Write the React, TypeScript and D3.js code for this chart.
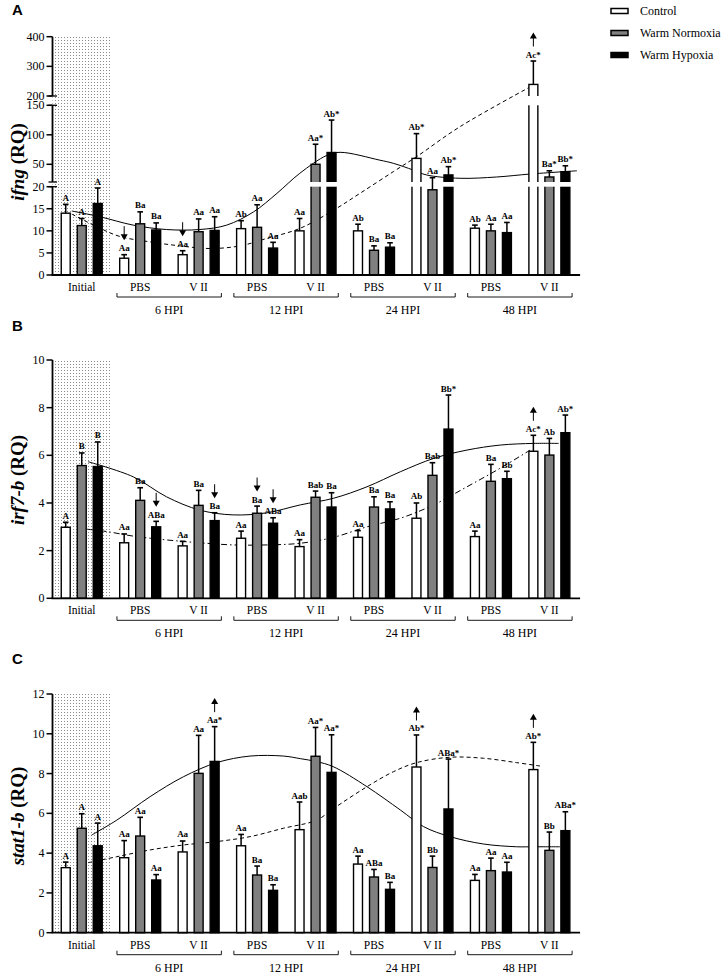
import React from "react";
import * as d3 from "d3";

// ---------- shared categories ----------
const groups = ["Initial", "PBS 6", "VII 6", "PBS 12", "VII 12", "PBS 24", "VII 24", "PBS 48", "VII 48"];
const categoryLabels = ["Initial", "PBS", "V II", "PBS", "V II", "PBS", "V II", "PBS", "V II"];
const hpiLabels = ["6 HPI", "12 HPI", "24 HPI", "48 HPI"];
const seriesNames = ["Control", "Warm Normoxia", "Warm Hypoxia"];
const seriesFills = ["#ffffff", "#808080", "#000000"];

// ---------- Panel A: ifng ----------
const ifngControl = [14, 3.8, 4.6, 10.5, 10, 10, 60, 10.6, 239];
const ifngControlSem = [2, 0.8, 0.9, 1.8, 2.8, 1.5, 42, 0.7, 79];
const ifngNormoxia = [11.2, 11.6, 9.8, 10.8, 50, 5.6, 19.3, 10, 28.5];
const ifngNormoxiaSem = [1.6, 2.7, 2.9, 5.1, 34, 1.0, 8, 1.5, 10.5];
const ifngHypoxia = [16.2, 10.2, 10.1, 6.1, 70, 6.3, 32, 9.6, 37.5];
const ifngHypoxiaSem = [3.5, 1.6, 3.1, 1.3, 55, 1.0, 14, 2.3, 10];
const ifngControlLabels = ["A", "Aa", "Aa", "Ab", "Aa", "Ab", "Ab*", "Ab", "Ac*"];
const ifngNormoxiaLabels = ["A", "Ba", "Aa", "Aa", "Aa*", "Ba", "Aa", "Aa", "Ba*"];
const ifngHypoxiaLabels = ["A", "Ba", "Aa", "Aa", "Ab*", "Ba", "Ab*", "Aa", "Bb*"];
const ifngControlArrows = [0, -1, -1, 0, 0, 0, 0, 0, 1];
const ifngNormoxiaArrows = [0, 0, 0, 0, 0, 0, 0, 0, 0];
const ifngHypoxiaArrows = [0, 0, 0, 0, 0, 0, 0, 0, 0];
const ifngTicksLow = [0, 5, 10, 15, 20];
const ifngTicksMid = [50, 100, 150];
const ifngTicksHigh = [200, 300, 400];
const ifngTrendSolid: [number, number][] = [
  [-0.17, 14.5], [0.31, 13.2], [0.88, 11.3], [1.45, 10.3], [2.02, 10.3], [2.48, 11.3],
  [2.94, 14.3], [3.34, 18.5], [3.73, 34.7], [4.19, 65], [4.42, 70.3], [5.1, 57],
  [5.33, 51.7], [5.67, 40.3], [5.9, 31.9], [6.47, 26.3], [7.1, 28.5], [7.67, 33.5], [8.47, 39],
];
const ifngTrendDashed: [number, number][] = [
  [-0.17, 13.8], [0.31, 10.6], [0.66, 8.7], [1.17, 7.5], [1.68, 6.6], [2.2, 6.0], [2.71, 6.6],
  [3.17, 8.3], [3.74, 10.6], [4.31, 14.7], [4.76, 18.5], [5.33, 37.5], [5.73, 63],
  [6.47, 113.7], [7.73, 237],
];

// ---------- Panel B: irf7-b ----------
const irfControl = [2.98, 2.33, 2.2, 2.52, 2.17, 2.56, 3.36, 2.59, 6.17];
const irfControlSem = [0.21, 0.37, 0.19, 0.3, 0.29, 0.28, 0.64, 0.23, 0.67];
const irfNormoxia = [5.57, 4.11, 3.9, 3.57, 4.24, 3.83, 5.16, 4.91, 6.01];
const irfNormoxiaSem = [0.53, 0.53, 0.63, 0.3, 0.26, 0.43, 0.53, 0.71, 0.7];
const irfHypoxia = [5.53, 3.0, 3.26, 3.15, 3.83, 3.75, 7.1, 5.02, 6.95];
const irfHypoxiaSem = [1.03, 0.23, 0.33, 0.23, 0.6, 0.3, 1.43, 0.31, 0.74];
const irfControlLabels = ["A", "Aa", "Aa", "Aa", "Aa", "Aa", "Ab", "Aa", "Ac*"];
const irfNormoxiaLabels = ["B", "Ba", "Ba", "Ba", "Bab", "Ba", "Bab", "Ba", "Ab"];
const irfHypoxiaLabels = ["B", "ABa", "Ba", "ABa", "Ba", "Ba", "Bb*", "Bb", "Ab*"];
const irfControlArrows = [0, 0, 0, 0, 0, 0, 0, 0, 1];
const irfNormoxiaArrows = [0, 0, 0, -1, 0, 0, 0, 0, 0];
const irfHypoxiaArrows = [0, -1, -1, -1, 0, 0, 0, 0, 0];
const irfTicks = [0, 2, 4, 6, 8, 10];
const irfTrendSolid: [number, number][] = [
  [0.11, 5.73], [0.88, 5.1], [1.45, 4.26], [2.02, 3.7], [2.59, 3.5], [3.17, 3.59], [3.74, 3.92],
  [4.31, 4.2], [4.88, 4.68], [5.45, 5.31], [6.02, 5.87], [6.59, 6.22], [7.16, 6.43], [7.73, 6.5], [8.16, 6.5],
];
const irfTrendDashDot: [number, number][] = [
  [0.09, 2.9], [0.43, 2.8], [0.88, 2.61], [1.45, 2.45], [2.02, 2.33], [2.59, 2.24], [3.17, 2.24],
  [3.74, 2.31], [4.31, 2.56], [4.88, 3.0], [5.45, 3.36], [6.02, 3.92], [6.59, 4.68], [7.16, 5.46], [7.67, 6.22],
];

// ---------- Panel C: stat1-b ----------
const statControl = [3.27, 3.77, 4.06, 4.37, 5.18, 3.45, 8.33, 2.63, 8.2];
const statControlSem = [0.28, 0.86, 0.55, 0.57, 1.39, 0.4, 1.61, 0.3, 1.37];
const statNormoxia = [5.25, 4.86, 8.01, 2.9, 8.87, 2.8, 3.28, 3.12, 4.14];
const statNormoxiaSem = [0.73, 0.94, 1.91, 0.45, 1.45, 0.38, 0.57, 0.63, 0.92];
const statHypoxia = [4.37, 2.65, 8.61, 2.13, 8.06, 2.18, 6.22, 3.05, 5.13];
const statHypoxiaSem = [1.14, 0.27, 1.75, 0.28, 1.89, 0.35, 2.51, 0.49, 0.95];
const statControlLabels = ["A", "Aa", "Aa", "Aa", "Aab", "Aa", "Ab*", "Aa", "Ab*"];
const statNormoxiaLabels = ["A", "Aa", "Aa", "Ba", "Aa*", "ABa", "Bb", "Aa", "Bb"];
const statHypoxiaLabels = ["A", "Aa", "Aa*", "Ba", "Aa*", "Ba", "ABa*", "Aa", "ABa*"];
const statControlArrows = [0, 0, 0, 0, 0, 0, 1, 0, 1];
const statNormoxiaArrows = [0, 0, 0, 0, 0, 0, 0, 0, 0];
const statHypoxiaArrows = [0, 0, 1, 0, 0, 0, 0, 0, 0];
const statTicks = [0, 2, 4, 6, 8, 10, 12];
const statTrendSolid: [number, number][] = [
  [0.17, 4.91], [0.6, 5.66], [1.17, 6.84], [1.74, 7.84], [2.31, 8.55], [2.88, 8.88], [3.45, 8.88],
  [3.74, 8.75], [4.02, 8.6], [4.3, 8.35], [4.88, 7.34], [5.45, 6.17], [5.85, 5.33], [6.3, 4.83],
  [6.87, 4.46], [7.44, 4.32], [7.73, 4.32], [8.18, 4.32],
];
const statTrendDashed: [number, number][] = [
  [0.11, 3.52], [0.6, 3.82], [1.17, 4.16], [1.74, 4.41], [2.31, 4.58], [2.88, 4.83], [3.45, 5.25],
  [4.02, 5.66], [4.31, 6.25], [4.88, 7.34], [5.33, 8.09], [5.73, 8.55], [6.3, 8.82], [6.87, 8.77],
  [7.44, 8.55], [7.84, 8.38],
];

// ---------- layout ----------
const W = 726;
const H = 975;
const X0 = 52.5;
const X1 = 578.6;
const SERIF = "'Liberation Serif', 'Times New Roman', serif";
const SANS = "'Liberation Sans', Arial, sans-serif";

type Segment = { domain: [number, number]; range: [number, number]; ticks: number[] };

function makeBroken(segments: Segment[]) {
  const scales = segments.map((s) => d3.scaleLinear().domain(s.domain).range(s.range));
  const f = (v: number) => {
    for (let i = 0; i < segments.length; i++) {
      if (v <= segments[i].domain[1] || i === segments.length - 1) return scales[i](v);
    }
    return scales[scales.length - 1](v);
  };
  return { f, scales };
}

type PanelProps = {
  letter: string;
  letterY: number;
  titleItalic: string;
  titleY: number;
  segments: Segment[];
  values: number[][];
  sems: number[][];
  labels: string[][];
  arrows: number[][];
  trends: { pts: [number, number][]; dash: string }[];
};

const xGroup = d3.scaleBand<string>().domain(groups).range([X0, X1]).paddingInner(0).paddingOuter(0);
const xSub = d3.scaleBand<number>().domain([0, 1, 2]).range([0, 48]).paddingInner(0.44).paddingOuter(0.22);
const groupCenter = (g: string) => (xGroup(g) as number) + xGroup.bandwidth() / 2;
const xPos = d3.scaleLinear().domain([0, groups.length - 1]).range([groupCenter(groups[0]), groupCenter(groups[groups.length - 1])]);

function Arrow({ x, yLabel, dir }: { x: number; yLabel: number; dir: number }) {
  const yBot = yLabel - 11;
  const yTop = yLabel - 25;
  if (dir > 0) {
    return (
      <g>
        <line x1={x} x2={x} y1={yBot} y2={yTop + 5} stroke="#000" strokeWidth={1} />
        <path d={`M${x - 3.5},${yTop + 6} L${x + 3.5},${yTop + 6} L${x},${yTop} Z`} fill="#000" />
      </g>
    );
  }
  return (
    <g>
      <line x1={x} x2={x} y1={yTop} y2={yBot - 5} stroke="#000" strokeWidth={1} />
      <path d={`M${x - 3.5},${yBot - 6} L${x + 3.5},${yBot - 6} L${x},${yBot} Z`} fill="#000" />
    </g>
  );
}

function Panel(p: PanelProps) {
  const { f: y, scales } = makeBroken(p.segments);
  const base = p.segments[0].range[0];
  const topY = p.segments[p.segments.length - 1].range[1];
  const gaps: [number, number][] = [];
  for (let i = 0; i < p.segments.length - 1; i++) {
    gaps.push([p.segments[i + 1].range[0], p.segments[i].range[1]]);
  }
  const line = d3
    .line<[number, number]>()
    .x((d) => xPos(d[0]))
    .y((d) => y(d[1]))
    .curve(d3.curveCatmullRom.alpha(0.5));
  const shadeX0 = xGroup(groups[0]) as number;
  const shadeX1 = shadeX0 + xGroup.step() + 1;

  return (
    <g>
      <text x={12} y={p.letterY} fontFamily={SANS} fontWeight="bold" fontSize={15}>
        {p.letter}
      </text>
      <text
        transform={`translate(24, ${p.titleY}) rotate(-90)`}
        textAnchor="middle"
        fontFamily={SERIF}
        fontWeight="bold"
        fontSize={19}
      >
        <tspan fontStyle="italic">{p.titleItalic}</tspan>
        <tspan> (RQ)</tspan>
      </text>
      {/* shaded initial region */}
      <rect x={shadeX0} y={topY} width={shadeX1 - shadeX0} height={base - topY} fill="url(#stipple)" />
      {/* trend lines behind bars */}
      {p.trends.map((t, i) => (
        <path key={i} d={line(t.pts) || ""} fill="none" stroke="#000" strokeWidth={1} strokeDasharray={t.dash} />
      ))}
      {/* bars */}
      {groups.map((g, gi) => {
        const left = groupCenter(g) - 24;
        return (
          <g key={g}>
            {[0, 1, 2].map((si) => {
              const v = p.values[si][gi];
              const e = v + p.sems[si][gi];
              const bx = left + (xSub(si) as number);
              const bw = xSub.bandwidth();
              const cx = bx + bw / 2;
              const yv = y(v);
              const ye = y(e);
              const yl = ye - 3.5;
              return (
                <g key={si}>
                  <line x1={cx} x2={cx} y1={yv} y2={ye} stroke="#000" strokeWidth={1.5} />
                  <line x1={cx - 2.8} x2={cx + 2.8} y1={ye} y2={ye} stroke="#000" strokeWidth={1.6} />
                  <rect x={bx} y={yv} width={bw} height={base - yv} fill={seriesFills[si]} stroke="#000" strokeWidth={1.4} />
                  {gaps.map((gp, k) =>
                    yv < gp[0] ? (
                      <rect key={k} x={bx - 1.5} y={gp[0]} width={bw + 3} height={gp[1] - gp[0]} fill="#fff" />
                    ) : null
                  )}
                  <text x={cx} y={yl} textAnchor="middle" fontFamily={SERIF} fontWeight="bold" fontSize={9}>
                    {p.labels[si][gi]}
                  </text>
                  {p.arrows[si][gi] !== 0 ? <Arrow x={cx} yLabel={yl} dir={p.arrows[si][gi]} /> : null}
                </g>
              );
            })}
          </g>
        );
      })}
      {/* y axis segments */}
      {p.segments.map((s, i) => (
        <g key={i}>
          <line x1={X0} x2={X0} y1={s.range[0]} y2={s.range[1]} stroke="#000" strokeWidth={1.8} />
          {s.ticks.map((t, k) => (
            <g key={k}>
              <line x1={X0 - 6} x2={X0} y1={scales[i](t)} y2={scales[i](t)} stroke="#000" strokeWidth={1.5} />
              <text x={X0 - 8} y={scales[i](t) + 4} textAnchor="end" fontFamily={SERIF} fontSize={12}>
                {t}
              </text>
            </g>
          ))}
        </g>
      ))}
      {gaps.map((gp, k) => (
        <g key={k}>
          <line x1={X0 - 4} x2={X0 + 4.5} y1={gp[0]} y2={gp[0]} stroke="#000" strokeWidth={1.3} />
          <line x1={X0 - 4} x2={X0 + 4.5} y1={gp[1]} y2={gp[1]} stroke="#000" strokeWidth={1.3} />
        </g>
      ))}
      {/* x axis */}
      <line x1={X0 - 0.9} x2={X1 + 1.5} y1={base} y2={base} stroke="#000" strokeWidth={1.8} />
      {groups.map((g, gi) => (
        <text key={g} x={groupCenter(g)} y={base + 16} textAnchor="middle" fontFamily={SERIF} fontSize={11.5}>
          {categoryLabels[gi]}
        </text>
      ))}
      {hpiLabels.map((h, k) => {
        const x1 = (xGroup(groups[2 * k + 1]) as number) + 6;
        const x2 = (xGroup(groups[2 * k + 2]) as number) + xGroup.step() - 6.5;
        const by = base + 22;
        return (
          <g key={h}>
            <path d={`M${x1},${by - 4} V${by} H${x2} V${by - 4}`} fill="none" stroke="#000" strokeWidth={0.9} />
            <text x={(x1 + x2) / 2} y={base + 39} textAnchor="middle" fontFamily={SERIF} fontSize={12}>
              {h}
            </text>
          </g>
        );
      })}
    </g>
  );
}

export default function App() {
  const segA: Segment[] = [
    { domain: [0, 20], range: [275, 186.7], ticks: ifngTicksLow },
    { domain: [20, 150], range: [182, 105.3], ticks: ifngTicksMid },
    { domain: [200, 400], range: [96, 36.7], ticks: ifngTicksHigh },
  ];
  const segB: Segment[] = [{ domain: [0, 10], range: [598.3, 360], ticks: irfTicks }];
  const segC: Segment[] = [{ domain: [0, 12], range: [932.7, 694], ticks: statTicks }];

  return (
    <svg width={W} height={H} style={{ position: "absolute", left: 0, top: 0, background: "#fff" }}>
      <defs>
        <pattern id="stipple" width={3} height={3} patternUnits="userSpaceOnUse">
          <rect width={3} height={3} fill="#fff" />
          <rect x={1} y={1} width={1} height={1} fill="#8a8a8a" />
        </pattern>
      </defs>
      <rect width={W} height={H} fill="#fff" />
      <Panel
        letter="A"
        letterY={15}
        titleItalic="ifng"
        titleY={162}
        segments={segA}
        values={[ifngControl, ifngNormoxia, ifngHypoxia]}
        sems={[ifngControlSem, ifngNormoxiaSem, ifngHypoxiaSem]}
        labels={[ifngControlLabels, ifngNormoxiaLabels, ifngHypoxiaLabels]}
        arrows={[ifngControlArrows, ifngNormoxiaArrows, ifngHypoxiaArrows]}
        trends={[
          { pts: ifngTrendSolid, dash: "" },
          { pts: ifngTrendDashed, dash: "4,3" },
        ]}
      />
      <Panel
        letter="B"
        letterY={331}
        titleItalic="irf7-b"
        titleY={480}
        segments={segB}
        values={[irfControl, irfNormoxia, irfHypoxia]}
        sems={[irfControlSem, irfNormoxiaSem, irfHypoxiaSem]}
        labels={[irfControlLabels, irfNormoxiaLabels, irfHypoxiaLabels]}
        arrows={[irfControlArrows, irfNormoxiaArrows, irfHypoxiaArrows]}
        trends={[
          { pts: irfTrendSolid, dash: "" },
          { pts: irfTrendDashDot, dash: "6,3,1.5,3" },
        ]}
      />
      <Panel
        letter="C"
        letterY={664}
        titleItalic="stat1-b"
        titleY={816}
        segments={segC}
        values={[statControl, statNormoxia, statHypoxia]}
        sems={[statControlSem, statNormoxiaSem, statHypoxiaSem]}
        labels={[statControlLabels, statNormoxiaLabels, statHypoxiaLabels]}
        arrows={[statControlArrows, statNormoxiaArrows, statHypoxiaArrows]}
        trends={[
          { pts: statTrendSolid, dash: "" },
          { pts: statTrendDashed, dash: "4,3" },
        ]}
      />
      {/* legend */}
      {seriesNames.map((n, i) => {
        const ly = 11 + i * 22;
        return (
          <g key={n}>
            <rect x={611} y={ly - 2.5} width={17} height={5} fill={seriesFills[i]} stroke="#000" strokeWidth={1.5} />
            <text x={640} y={ly + 4} fontFamily={SERIF} fontSize={12}>
              {n}
            </text>
          </g>
        );
      })}
    </svg>
  );
}
